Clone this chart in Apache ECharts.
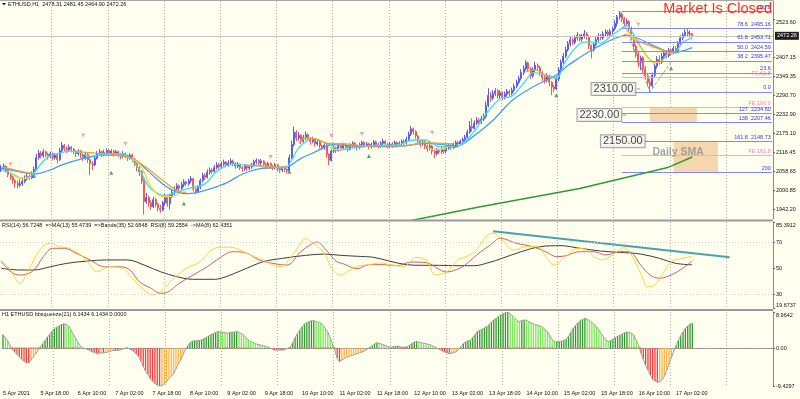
<!DOCTYPE html>
<html>
<head>
<meta charset="utf-8">
<script src="https://cdn.jsdelivr.net/npm/echarts@6/dist/echarts.min.js"></script>
<style>
  html, body { margin: 0; padding: 0; background: #fffff0; }
  #chart { width: 800px; height: 399px; }
</style>
</head>
<body>
<div id="chart"></div>
<script>
const FONT = 'Liberation Sans, Arial, sans-serif';

// x axis labels, one every 16 hourly bars, first bar = 5 Apr 02:00
const timeLabels = ['5 Apr 2021', '5 Apr 18:00', '6 Apr 10:00', '7 Apr 02:00', '7 Apr 18:00', '8 Apr 10:00',
  '9 Apr 02:00', '9 Apr 18:00', '10 Apr 10:00', '11 Apr 02:00', '11 Apr 18:00', '12 Apr 10:00',
  '13 Apr 02:00', '13 Apr 18:00', '14 Apr 10:00', '15 Apr 02:00', '15 Apr 18:00', '16 Apr 10:00', '17 Apr 02:00'];

const priceTicks = [1942.20, 2000.85, 2058.65, 2116.45, 2175.10, 2232.90, 2290.70, 2349.35, 2407.15, 2523.60];
const rsiTicks = [19.6737, 30, 50, 70, 85.3912];
const rsiTickText = ['19.6737', '30', '50', '70', '85.3912'];
const histTicks = [-9.4297, 0, 8.9642];
const histTickText = ['-9.4297', '0.00', '8.9642'];
const bidPrice = 2472.26;

// ETHUSD H1 bars: [open, close, low, high]
const ohlc = [
  [2062,2068,2056,2078],[2068,2074,2064,2082],[2074,2060,2054,2076],[2060,2048,2040,2064],[2048,2040,2032,2052],
  [2040,2030,2020,2044],[2030,2022,2008,2034],[2022,2016,2006,2030],[2016,2020,2010,2034],[2020,2028,2014,2040],
  [2028,2036,2022,2046],[2036,2042,2030,2050],[2042,2038,2032,2048],[2038,2052,2034,2058],[2052,2064,2046,2072],
  [2064,2100,2060,2112],[2100,2114,2094,2124],[2114,2106,2098,2120],[2106,2118,2100,2126],[2118,2110,2102,2122],
  [2110,2104,2094,2114],[2104,2112,2098,2118],[2112,2100,2092,2116],[2100,2108,2094,2114],[2108,2094,2082,2112],
  [2094,2122,2090,2130],[2122,2138,2116,2148],[2138,2128,2120,2142],[2128,2124,2114,2134],[2124,2132,2118,2140],
  [2132,2126,2116,2136],[2126,2118,2110,2130],[2118,2112,2102,2122],[2112,2120,2106,2126],[2120,2108,2098,2124],
  [2108,2100,2090,2112],[2100,2110,2094,2116],[2110,2094,2084,2114],[2094,2082,2046,2098],[2082,2078,2062,2090],
  [2078,2098,2074,2104],[2098,2112,2094,2120],[2112,2118,2106,2126],[2118,2110,2102,2122],[2110,2116,2104,2124],
  [2116,2122,2110,2128],[2122,2114,2106,2126],[2114,2120,2108,2126],[2120,2112,2104,2124],[2112,2118,2106,2124],
  [2118,2110,2102,2122],[2110,2104,2096,2114],[2104,2112,2098,2120],[2112,2106,2098,2116],[2106,2100,2090,2110],
  [2100,2108,2094,2114],[2108,2096,2086,2112],[2096,2082,2074,2100],[2082,2070,2058,2086],[2070,2058,2044,2074],
  [2058,2030,2020,2062],[2030,1966,1926,2034],[1966,1978,1958,1992],[1978,1962,1950,1984],[1962,1950,1940,1970],
  [1950,1972,1946,1980],[1972,1958,1948,1978],[1958,1946,1936,1962],[1946,1940,1932,1956],[1940,1962,1936,1968],
  [1962,1978,1954,1990],[1978,1960,1950,1982],[1960,1984,1942,1988],[1984,1994,1976,2002],[1994,2004,1986,2012],
  [2004,2014,1996,2022],[2014,2006,1998,2018],[2006,2018,2000,2026],[2018,2026,2010,2034],[2026,2020,2012,2030],
  [2020,2030,2014,2036],[2030,2036,2022,2044],[2036,2004,1996,2038],[2004,1996,1988,2008],[1996,2010,1992,2016],
  [2010,2030,2004,2036],[2030,2046,2024,2054],[2046,2040,2032,2052],[2040,2056,2036,2064],[2056,2062,2048,2070],
  [2062,2058,2050,2068],[2058,2070,2054,2078],[2070,2078,2064,2086],[2078,2072,2064,2084],[2072,2080,2066,2088],
  [2080,2086,2074,2094],[2086,2078,2070,2090],[2078,2084,2072,2092],[2084,2090,2078,2098],[2090,2082,2074,2094],
  [2082,2074,2066,2086],[2074,2080,2068,2086],[2080,2070,2062,2082],[2070,2066,2056,2074],[2066,2074,2060,2080],
  [2074,2068,2060,2078],[2068,2072,2062,2078],[2072,2078,2066,2084],[2078,2088,2072,2094],[2088,2092,2080,2098],
  [2092,2084,2076,2096],[2084,2090,2078,2096],[2090,2080,2072,2092],[2080,2076,2068,2084],[2076,2082,2070,2088],
  [2082,2074,2066,2086],[2074,2070,2062,2078],[2070,2078,2064,2084],[2078,2066,2058,2080],[2066,2062,2054,2070],
  [2062,2070,2056,2074],[2070,2064,2056,2074],[2064,2060,2052,2068],[2060,2100,2058,2110],[2100,2140,2096,2152],
  [2140,2178,2134,2195],[2178,2160,2150,2184],[2160,2168,2152,2178],[2168,2150,2142,2172],[2150,2162,2144,2170],
  [2162,2170,2154,2180],[2170,2158,2150,2174],[2158,2150,2140,2162],[2150,2156,2144,2164],[2156,2142,2134,2160],
  [2142,2148,2136,2154],[2148,2136,2128,2152],[2136,2130,2122,2140],[2130,2138,2124,2144],[2138,2110,2100,2142],
  [2110,2092,2077,2114],[2092,2120,2088,2126],[2120,2130,2114,2138],[2130,2122,2114,2134],[2122,2136,2118,2142],
  [2136,2128,2120,2140],[2128,2140,2124,2146],[2140,2132,2124,2144],[2132,2126,2118,2136],[2126,2138,2122,2144],
  [2138,2144,2132,2150],[2144,2136,2128,2148],[2136,2130,2122,2140],[2130,2140,2126,2146],[2140,2146,2134,2152],
  [2146,2138,2130,2150],[2138,2142,2132,2148],[2142,2134,2126,2146],[2134,2140,2128,2146],[2140,2148,2134,2154],
  [2148,2140,2132,2152],[2140,2136,2128,2146],[2136,2144,2130,2150],[2144,2150,2138,2158],[2150,2142,2134,2154],
  [2142,2136,2128,2146],[2136,2142,2130,2148],[2142,2138,2130,2148],[2138,2146,2132,2152],[2146,2140,2132,2150],
  [2140,2144,2134,2150],[2144,2150,2138,2156],[2150,2146,2138,2156],[2146,2156,2140,2164],[2156,2172,2150,2180],
  [2172,2188,2166,2197],[2188,2180,2170,2192],[2180,2166,2158,2184],[2166,2150,2142,2170],[2150,2142,2132,2154],
  [2142,2148,2136,2154],[2148,2136,2126,2152],[2136,2128,2118,2140],[2128,2136,2122,2142],[2136,2120,2110,2140],
  [2120,2112,2098,2124],[2112,2124,2106,2130],[2124,2118,2110,2128],[2118,2126,2112,2132],[2126,2120,2112,2130],
  [2120,2130,2114,2136],[2130,2138,2124,2144],[2138,2132,2124,2142],[2132,2140,2126,2146],[2140,2146,2134,2152],
  [2146,2142,2134,2152],[2142,2150,2136,2156],[2150,2156,2144,2162],[2156,2162,2150,2170],[2162,2178,2156,2186],
  [2178,2196,2172,2212],[2196,2190,2180,2220],[2190,2206,2186,2214],[2206,2214,2200,2224],[2214,2208,2198,2222],
  [2208,2218,2202,2228],[2218,2226,2212,2235],[2226,2260,2220,2272],[2260,2290,2254,2312],[2290,2282,2270,2300],
  [2282,2296,2276,2306],[2296,2304,2288,2312],[2304,2290,2280,2310],[2290,2298,2282,2306],[2298,2286,2276,2302],
  [2286,2294,2278,2302],[2294,2302,2286,2310],[2302,2296,2288,2308],[2296,2306,2290,2314],[2306,2318,2300,2326],
  [2318,2330,2312,2338],[2330,2342,2324,2350],[2342,2360,2336,2370],[2360,2372,2352,2382],[2372,2390,2366,2398],
  [2390,2372,2362,2394],[2372,2350,2340,2376],[2350,2368,2344,2376],[2368,2382,2360,2393],[2382,2376,2366,2388],
  [2376,2360,2350,2380],[2360,2344,2334,2364],[2344,2338,2326,2350],[2338,2350,2330,2358],[2350,2330,2318,2354],
  [2330,2316,2291,2334],[2316,2310,2300,2322],[2310,2340,2306,2348],[2340,2368,2334,2376],[2368,2392,2360,2400],
  [2392,2410,2386,2420],[2410,2430,2404,2440],[2430,2448,2424,2456],[2448,2460,2440,2470],[2460,2452,2444,2466],
  [2452,2466,2446,2474],[2466,2474,2458,2484],[2474,2462,2454,2478],[2462,2470,2454,2478],[2470,2478,2464,2490],
  [2478,2470,2460,2484],[2470,2442,2432,2474],[2442,2430,2403,2446],[2430,2446,2424,2452],[2446,2460,2440,2468],
  [2460,2472,2454,2480],[2472,2466,2458,2478],[2466,2478,2460,2486],[2478,2484,2470,2492],[2484,2476,2468,2490],
  [2476,2486,2470,2494],[2486,2494,2478,2500],[2494,2510,2488,2520],[2510,2530,2500,2536],[2530,2538,2522,2548],
  [2538,2524,2514,2544],[2524,2510,2500,2530],[2510,2516,2502,2526],[2516,2494,2484,2520],[2494,2470,2460,2500],
  [2470,2440,2428,2476],[2440,2418,2406,2446],[2418,2390,2376,2424],[2390,2405,2368,2412],[2405,2372,2360,2410],
  [2372,2350,2338,2380],[2350,2330,2318,2356],[2330,2320,2301,2340],[2320,2352,2314,2360],[2352,2380,2346,2388],
  [2380,2400,2372,2410],[2400,2392,2384,2412],[2392,2410,2386,2420],[2410,2420,2404,2430],[2420,2412,2404,2428],
  [2412,2428,2406,2436],[2428,2422,2414,2434],[2422,2434,2416,2442],[2434,2426,2418,2440],[2426,2448,2420,2456],
  [2448,2466,2442,2474],[2466,2474,2458,2482],[2474,2484,2468,2492],[2484,2478,2470,2495],[2478,2478.31,2468,2488],
  [2478.31,2472.26,2464.90,2481.45]
];

// moving averages: [bar, price]
const cyanMA = [[0,2064],[5,2050],[9,2036],[12,2040],[15,2062],[18,2090],[21,2106],[25,2114],[29,2120],[33,2116],
  [38,2104],[42,2108],[47,2112],[52,2110],[55,2100],[59,2064],[63,2012],[67,1990],[70,1984],[75,1996],[82,2010],
  [87,2020],[92,2058],[99,2080],[107,2076],[114,2074],[121,2068],[124,2092],[127,2130],[133,2158],[140,2140],
  [145,2124],[150,2130],[155,2134],[162,2138],[169,2139],[176,2154],[181,2154],[187,2134],[194,2134],[201,2172],
  [207,2234],[213,2280],[218,2288],[224,2336],[227,2360],[233,2352],[237,2342],[241,2396],[247,2448],[251,2454],
  [256,2450],[260,2470],[264,2490],[267,2505],[269,2488],[273,2440],[276,2408],[279,2392],[282,2396],[285,2418],
  [288,2424],[291,2452],[295,2466]];
const blueMA = [[0,2068],[7,2058],[14,2050],[20,2060],[26,2078],[32,2092],[38,2102],[44,2108],[50,2108],[54,2104],
  [58,2090],[62,2064],[66,2038],[70,2014],[74,1998],[79,1990],[84,1994],[88,2002],[96,2022],[103,2050],[110,2066],
  [116,2069],[122,2072],[128,2098],[133,2114],[142,2140],[150,2136],[160,2134],[169,2134],[176,2140],[183,2144],
  [190,2138],[194,2134],[201,2162],[210,2214],[218,2274],[227,2316],[237,2352],[242,2382],[247,2406],[252,2428],
  [256,2444],[262,2464],[267,2474],[272,2464],[278,2444],[283,2428],[287,2420],[291,2426],[295,2436]];
const orangeSegs = [
  [[0,2072],[5,2064],[10,2056],[14,2052]],
  [[31,2120],[40,2114],[48,2110],[56,2096],[62,2070],[68,2036],[72,2014],[76,1996],[79,1994]],
  [[104,2078],[112,2074],[118,2072],[122,2070]],
  [[127,2144],[130,2160],[135,2156],[139,2144],[147,2142],[156,2136],[173,2136],[180,2146],[186,2144],[193,2142]],
  [[224,2362],[228,2368],[233,2348],[237,2342]],
  [[266,2478],[272,2456],[280,2434],[287,2419]]
];
const yellowSegs = [
  [[4,2054],[9,2036],[13,2040]],
  [[56,2100],[60,2070],[64,2011],[69,1981],[73,1981],[76,1991]],
  [[140,2133],[143,2124],[146,2128]],
  [[182,2133],[185,2124],[190,2128]],
  [[267,2490],[270,2466],[273,2436],[276,2406],[279,2390],[283,2398]]
];
const dailySMA = [[168,1898],[204,1949],[247,2006],[285,2071],[295,2102]];

const sellArrows = [[4,2080],[35,2168],[53,2142],[115,2102],[141,2166],[154,2172],[184,2176],[272,2507]];
const buyArrows = [[14,2044],[47,2054],[78,1960],[123,2057],[157,2105],[194,2137],[237,2291],[286,2373]];

// fibonacci drawing
const fibStartBar = 265;
const fibEndBar = 329;
const fibPrices = [2548.0, 2495.16, 2453.71, 2424.59, 2395.47, 2359.4, 2301.2, 2234.60, 2207.46, 2148.73, 2054.4];
const fibLabels = ['100.0', '78.6  2495.16', '61.8  2453.71', '50.0  2424.59', '38.2  2395.47', '23.6', '0.0',
  '127  2234.60', '138  2207.46', '161.8  2148.73', '200'];
const fePrices = [2346.4, 2254.8, 2106.6];
const feLabels = ['FE 61.8', 'FE 100.0', 'FE 161.8'];
const fibTrend = [[264,2548],[277,2301],[286,2392]];
const zones = [[[277,2254.8],[297,2207.46]], [[287,2148.73],[306,2054.4]]];
const priceBoxes = [[272,2310],[266,2230],[276,2150]];
const smaNote = [[289,2117]];

// RSI window
const rsiYellow = [[0,56.4],[4,48.7],[8,38.5],[12,50.0],[17,65.3],[21,69.1],[25,66.5],[29,65.3],[34,60.2],[38,52.5],
  [41,47.4],[46,51.2],[52,50.0],[56,42.4],[61,33.4],[65,29.6],[69,33.4],[73,41.1],[79,50.0],[85,55.0],[89,62.7],
  [93,66.1],[98,66.1],[102,64.0],[108,58.9],[112,56.4],[116,52.5],[120,51.2],[123,57.1],[126,64.2],[130,72.6],
  [133,69.3],[138,61.7],[141,50.2],[145,44.7],[148,47.7],[152,51.5],[157,52.8],[162,54.1],[166,52.8],[172,51.5],
  [177,58.4],[182,55.4],[185,45.1],[190,47.0],[195,56.6],[199,59.2],[203,64.2],[207,74.5],[210,77.0],[213,73.0],
  [219,64.0],[224,66.5],[229,66.5],[233,57.6],[236,52.5],[241,58.9],[246,65.3],[250,64.0],[253,58.9],[257,56.4],
  [261,60.2],[266,65.8],[269,60.2],[273,46.2],[276,35.9],[279,37.2],[283,47.4],[286,55.1],[291,57.6],[295,59.3]];
const rsiRed = [[0,55.1],[5,46.2],[9,44.9],[14,48.7],[18,58.9],[22,65.3],[27,65.3],[32,61.5],[38,56.4],[44,51.2],
  [51,51.2],[55,48.7],[59,39.8],[64,34.7],[68,30.9],[71,31.7],[76,38.5],[82,44.9],[88,51.2],[93,57.6],[99,62.7],
  [105,61.5],[110,56.4],[116,53.8],[122,52.5],[128,63.0],[132,68.0],[135,70.1],[138,65.5],[143,55.4],[146,53.5],
  [152,49.7],[157,52.8],[163,52.8],[169,52.0],[175,54.8],[182,54.1],[186,50.2],[190,47.2],[196,50.2],[200,55.4],
  [204,61.7],[209,68.0],[213,73.0],[220,69.1],[227,66.5],[233,62.2],[237,58.9],[241,59.6],[247,62.7],[253,62.7],
  [258,60.2],[264,62.7],[268,62.7],[273,52.5],[277,44.9],[281,42.4],[286,44.9],[291,50.0],[295,55.6]];
const rsiBlack = [[0,50.0],[8,48.7],[14,48.7],[21,51.2],[28,53.8],[37,55.6],[45,56.4],[54,56.4],[61,52.5],[68,47.4],
  [75,43.6],[82,41.6],[91,41.6],[96,43.6],[103,48.7],[112,55.1],[120,57.6],[130,59.9],[138,60.9],[145,59.9],
  [152,59.2],[159,58.4],[166,55.4],[173,52.8],[180,52.3],[187,52.3],[195,52.0],[202,52.0],[209,54.8],[213,57.1],
  [222,62.7],[230,66.5],[239,67.3],[247,65.3],[256,63.2],[264,62.2],[273,60.9],[281,57.6],[288,53.8],[295,52.7]];
const rsiTrend = [[210,78.3],[311,58.4]];

// bbsqueeze histogram, one value per bar
const hist = [3.3,2.6,1.8,0.7,-0.4,-1.0,-1.6,-2.2,-2.8,-3.3,
  -3.7,-3.7,-3.0,-2.2,-1.4,-0.5,0.3,1.1,1.9,2.7,
  3.4,4.2,4.8,5.2,5.5,5.8,6.0,5.9,5.5,4.6,
  3.5,2.5,1.5,0.6,0.1,-0.1,-0.3,-0.6,-0.9,-1.1,
  -1.3,-1.3,-1.2,-1.2,-1.1,-1.0,-0.8,-0.6,-0.6,-0.6,
  -0.5,-0.3,-0.1,0.1,-0.2,-0.5,-0.9,-1.5,-2.1,-3.2,
  -4.6,-5.7,-6.6,-7.6,-8.3,-8.8,-9.2,-9.43,-9.3,-8.9,
  -8.3,-7.6,-7.0,-6.4,-5.2,-4.0,-3.0,-1.7,-0.4,0.5,
  1.3,1.7,1.8,1.8,1.9,2.0,2.3,2.6,3.0,3.3,
  3.6,3.9,4.1,4.0,3.9,3.8,3.7,3.8,3.9,4.0,
  4.1,3.9,3.6,3.2,2.6,2.0,1.6,1.4,1.1,0.9,
  0.8,0.6,0.5,0.3,0.1,-0.2,-0.5,-0.5,-0.5,-0.5,
  -0.5,-0.3,0.0,0.3,1.4,2.6,3.6,4.5,5.3,6.0,
  6.3,6.6,6.8,6.8,6.6,6.4,6.2,5.6,4.8,4.0,
  2.6,1.0,-0.5,-2.5,-3.4,-3.0,-2.6,-2.3,-2.1,-1.9,
  -1.7,-1.5,-1.3,-1.1,-0.9,-0.6,-0.2,0.2,0.6,1.0,
  1.3,1.2,1.0,0.8,0.5,0.3,0.2,0.3,0.4,0.5,
  0.3,0.2,0.2,0.3,0.7,1.1,1.5,1.6,1.5,1.3,
  1.2,1.1,0.9,0.8,0.5,0.2,-0.1,-0.4,-0.7,-1.0,
  -1.2,-1.4,-1.3,-1.1,-0.9,-0.3,0.4,1.1,1.5,1.8,
  1.9,2.6,3.4,4.1,4.4,4.7,5.0,5.3,5.8,6.4,
  7.0,7.4,7.8,8.2,8.5,8.8,8.96,8.6,8.0,7.4,
  6.8,6.6,6.8,7.0,6.9,6.6,6.3,6.0,5.8,5.6,
  5.5,5.1,4.6,4.0,3.1,2.1,1.6,1.6,1.6,1.7,
  1.9,2.2,2.9,4.0,4.9,5.6,6.3,6.8,7.1,7.4,
  7.2,6.8,6.4,5.8,5.3,4.5,3.6,2.8,2.1,1.6,
  1.9,2.2,2.6,2.9,3.2,3.5,3.8,4.0,3.9,3.6,
  3.2,1.9,0.6,-1.2,-2.8,-4.3,-5.5,-6.7,-7.8,-8.2,
  -8.5,-8.4,-7.9,-7.0,-5.6,-4.0,-2.4,-0.8,0.6,1.9,
  3.1,4.0,4.9,5.5,6.0,6.14];
const squeezeRanges = [[4,32],[86,106],[123,142],[170,177],[199,236],[242,256],[263,273],[290,295]];

// 296 bars plus the empty right margin
const cats = [];
for (let i = 0; i < 330; i++) cats.push(String(i));

const squeezeDots = [];
squeezeRanges.forEach(([a, b]) => { for (let i = a; i <= b; i++) squeezeDots.push([i, 0]); });

const small = { fontSize: 5.5, fontFamily: FONT, color: '#111' };
const gridLine = { show: true, interval: (i) => i > 0 && (i - 22) % 24 === 0, lineStyle: { color: '#b2b2b2', type: [1, 2], width: 1 } };

function xAxisFor(g) {
  return {
    type: 'category', gridIndex: g, data: cats, boundaryGap: true,
    axisLine: { show: g === 2, lineStyle: { color: '#8a8a8a' } },
    axisTick: { show: false },
    axisLabel: g === 2 ? {
      ...small, show: true, align: 'left', margin: 4,
      interval: (i) => i % 16 === 0 && i <= 288,
      formatter: (v) => timeLabels[Number(v) / 16]
    } : { show: false },
    splitLine: gridLine
  };
}

function yAxisFor(g, min, max, ticks, fmt) {
  return {
    type: 'value', gridIndex: g, position: 'right', min: min, max: max,
    splitLine: { show: false },
    axisLine: { show: true, lineStyle: { color: '#8a8a8a' } },
    axisTick: { show: true, customValues: ticks, length: 2, lineStyle: { color: '#666' } },
    axisLabel: { ...small, margin: 3, customValues: ticks, formatter: fmt,
      verticalAlignMaxLabel: 'top', verticalAlignMinLabel: g === 1 ? 'bottom' : 'middle' }
  };
}

function lineSeries(data, color, width, z, x, extra) {
  return Object.assign({
    type: 'line', xAxisIndex: x, yAxisIndex: x, data: data, showSymbol: false, symbol: 'none',
    smooth: 0.35, silent: true, z: z, lineStyle: { color: color, width: width }
  }, extra || {});
}

const series = [
  {
    type: 'candlestick', name: 'ETHUSD', xAxisIndex: 0, yAxisIndex: 0, data: ohlc, barWidth: 1.5, z: 2,
    itemStyle: { color: '#5c5cf2', color0: '#f25a5a', borderColor: '#5c5cf2', borderColor0: '#f25a5a', borderWidth: 1 },
    markLine: {
      silent: true, symbol: 'none', animation: false,
      data: [{ yAxis: bidPrice }],
      lineStyle: { color: '#c6c6c6', type: 'solid', width: 1 },
      label: { show: true, position: 'end', formatter: bidPrice.toFixed(2), distance: 2,
        backgroundColor: '#1e1e1e', color: '#fff', fontSize: 5.5, fontFamily: FONT, padding: [1, 2] }
    }
  },
  // fibonacci retracement and expansion levels
  {
    type: 'line', xAxisIndex: 0, yAxisIndex: 0, data: [], z: 1, silent: true,
    markLine: {
      silent: true, symbol: 'none', animation: false,
      data: fibPrices.map((p, k) => [{ coord: [fibStartBar, p], name: fibLabels[k] }, { coord: [fibEndBar, p] }])
        .concat(fePrices.map((p, k) => [{ coord: [fibStartBar, p], name: feLabels[k],
          lineStyle: { color: '#f3a8d2' }, label: { color: '#f07cc0' } }, { coord: [fibEndBar, p] }])),
      lineStyle: { color: '#8484ff', type: 'solid', width: 1 },
      label: { show: true, position: 'insideEndTop', formatter: '{b}', distance: 1,
        color: '#3434ff', fontSize: 5.5, fontFamily: FONT }
    }
  },
  lineSeries(fibTrend, '#9a9a9a', 1, 1, 0, { smooth: false, lineStyle: { color: '#9a9a9a', width: 1, type: [3, 2] } }),
  lineSeries(blueMA, '#4a9cf0', 1.3, 3, 0),
  lineSeries(cyanMA, '#35e3f2', 1.3, 3, 0),
  ...orangeSegs.map(s => lineSeries(s, '#f5a030', 1.3, 3, 0)),
  ...yellowSegs.map(s => lineSeries(s, '#ffd02a', 1.3, 3, 0)),
  // target zones
  {
    type: 'line', xAxisIndex: 0, yAxisIndex: 0, data: [], z: 4, silent: true,
    markArea: {
      silent: true, animation: false,
      itemStyle: { color: '#f6d7ad', opacity: 1 },
      data: zones.map(([a, b]) => [{ coord: a }, { coord: b }])
    }
  },
  lineSeries(dailySMA, '#2f9a2f', 1.5, 5, 0, { smooth: false }),
  {
    type: 'scatter', xAxisIndex: 0, yAxisIndex: 0, data: sellArrows, z: 5, silent: true,
    symbol: 'triangle', symbolSize: [4, 4], symbolRotate: 180, itemStyle: { color: '#f08a8a' }
  },
  {
    type: 'scatter', xAxisIndex: 0, yAxisIndex: 0, data: buyArrows, z: 5, silent: true,
    symbol: 'triangle', symbolSize: [4, 4], itemStyle: { color: '#2e8b57' }
  },
  {
    type: 'scatter', xAxisIndex: 0, yAxisIndex: 0, data: priceBoxes, z: 6, silent: true,
    symbol: 'rect', symbolSize: [4, 1], itemStyle: { color: '#8c8c8c' },
    label: { show: true, position: 'left', distance: 1, formatter: (p) => p.value[1].toFixed(2),
      fontSize: 11, fontFamily: FONT, color: '#111', backgroundColor: '#f7f7f1',
      borderColor: '#8c8c8c', borderWidth: 1, padding: [1, 2, 0, 2] }
  },
  {
    type: 'scatter', xAxisIndex: 0, yAxisIndex: 0, data: smaNote, z: 6, silent: true, symbolSize: 0,
    label: { show: true, position: 'inside', formatter: 'Daily SMA', fontSize: 10.5, fontWeight: 'bold',
      fontFamily: FONT, color: '#8f8f8f' }
  },
  // RSI window
  lineSeries(rsiBlack, '#3c3c3c', 1, 3, 1, {
    markLine: { silent: true, symbol: 'none', animation: false, label: { show: false },
      lineStyle: { color: '#d2d2d2', type: [1, 2], width: 1 }, data: [{ yAxis: 70 }, { yAxis: 30 }] }
  }),
  lineSeries(rsiRed, '#c86464', 1, 3, 1),
  lineSeries(rsiYellow, '#ffd42e', 1, 3, 1),
  lineSeries(rsiTrend, '#4aa3aa', 2, 4, 1, { smooth: false }),
  // bbsqueeze window
  {
    type: 'bar', xAxisIndex: 2, yAxisIndex: 2, data: hist, barWidth: 1.3, z: 2, silent: true,
    itemStyle: {
      color: (p) => {
        const v = hist[p.dataIndex];
        const prev = p.dataIndex ? hist[p.dataIndex - 1] : v;
        if (v >= 0) return v >= prev ? '#2f9a2f' : '#78ea58';
        return v <= prev ? '#ff3a3a' : '#ffb347';
      }
    },
    markLine: { silent: true, symbol: 'none', animation: false, label: { show: false },
      lineStyle: { color: '#b8b8b8', type: [1, 2], width: 1 }, data: [{ yAxis: 0 }] }
  },
  lineSeries(hist, '#a0a0a0', 1, 3, 2, { smooth: false }),
  {
    type: 'scatter', xAxisIndex: 2, yAxisIndex: 2, data: squeezeDots, z: 4, silent: true,
    symbol: 'rect', symbolSize: [1.5, 1.5], itemStyle: { color: '#e56a2c' }
  }
];

const chart = echarts.init(document.getElementById('chart'), null, { renderer: 'canvas' });
chart.setOption({
  animation: false,
  backgroundColor: '#fffff0',
  grid: [
    { left: 0, right: 27, top: 1, height: 218 },
    { left: 0, right: 27, top: 222, height: 86 },
    { left: 0, right: 27, top: 312, height: 74 }
  ],
  xAxis: [xAxisFor(0), xAxisFor(1), xAxisFor(2)],
  yAxis: [
    yAxisFor(0, 1912.6, 2578.6, priceTicks, (v) => v.toFixed(2)),
    yAxisFor(1, 19.6737, 85.3912, rsiTicks, (v) => rsiTickText[rsiTicks.findIndex(t => Math.abs(t - v) < 1e-6)] || ''),
    yAxisFor(2, -9.4297, 8.9642, histTicks, (v) => histTickText[histTicks.findIndex(t => Math.abs(t - v) < 1e-6)] || '')
  ],
  series: series,
  graphic: [
    { type: 'line', shape: { x1: 0, y1: 0.5, x2: 773, y2: 0.5 }, style: { stroke: '#a8a8a8', lineWidth: 1 } },
    { type: 'line', shape: { x1: 0, y1: 220.5, x2: 773, y2: 220.5 }, style: { stroke: '#9a9a9a', lineWidth: 2 } },
    { type: 'line', shape: { x1: 0, y1: 310, x2: 773, y2: 310 }, style: { stroke: '#9a9a9a', lineWidth: 2 } },
    { type: 'polygon', shape: { points: [[2, 3], [6, 3], [4, 5.5]] }, style: { fill: '#222' } },
    { type: 'text', left: 8, top: 1, style: { text: 'ETHUSD,H1  2478.31 2481.45 2464.90 2472.26', fill: '#111', fontSize: 5.5, fontFamily: FONT } },
    { type: 'text', left: 2, top: 222.5, style: { text: 'RSI(14) 56.7248  =>MA(13) 55.4739  =>Bands(35) 52.6848  RSI(8) 59.2554  ->MA(8) 62.4351', fill: '#111', fontSize: 5.5, fontFamily: FONT } },
    { type: 'text', left: 2, top: 311.5, style: { text: 'H1 ETHUSD bbsqueeze(21) 6.1434 6.1434 0.0000', fill: '#111', fontSize: 5.5, fontFamily: FONT } },
    { type: 'text', right: 28, top: 1, z: 10, style: { text: 'Market Is Closed', fill: '#ff2b2b', fontSize: 14.5, fontFamily: FONT } }
  ]
});
</script>
</body>
</html>
